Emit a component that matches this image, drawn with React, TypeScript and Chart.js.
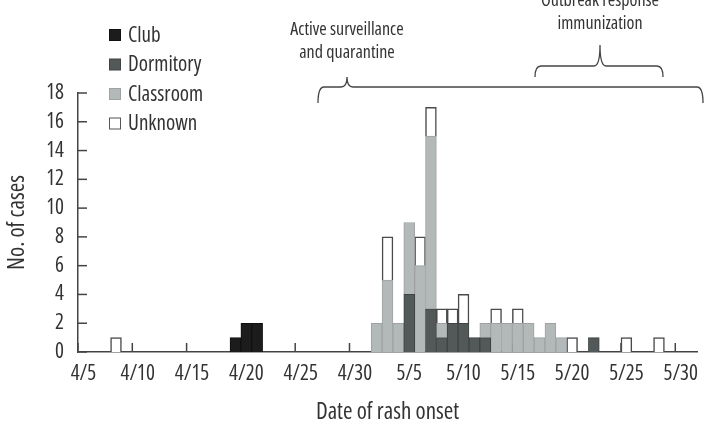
import React, { useEffect, useRef } from "react";
import { Chart, registerables } from "chart.js";
Chart.register(...registerables);

const TEXT = "#333333";
const AXIS = "#444444";

// Date of rash onset (one category per day)
const days: string[] = [
  "4/5", "4/6", "4/7", "4/8", "4/9", "4/10", "4/11", "4/12", "4/13", "4/14",
  "4/15", "4/16", "4/17", "4/18", "4/19", "4/20", "4/21", "4/22", "4/23", "4/24",
  "4/25", "4/26", "4/27", "4/28", "4/29", "4/30", "5/1", "5/2", "5/3", "5/4",
  "5/5", "5/6", "5/7", "5/8", "5/9", "5/10", "5/11", "5/12", "5/13", "5/14",
  "5/15", "5/16", "5/17", "5/18", "5/19", "5/20", "5/21", "5/22", "5/23", "5/24",
  "5/25", "5/26", "5/27", "5/28", "5/29", "5/30", "5/31",
];

const shownTicks: string[] = ["4/5", "4/10", "4/15", "4/20", "4/25", "4/30", "5/5", "5/10", "5/15", "5/20", "5/25", "5/30"];
const yTicks: number[] = [0, 2, 4, 6, 8, 10, 12, 14, 16, 18];

const club: number[] = [
  0, 0, 0, 0, 0, 0, 0, 0, 0, 0,
  0, 0, 0, 0, 1, 2, 2, 0, 0, 0,
  0, 0, 0, 0, 0, 0, 0, 0, 0, 0,
  0, 0, 0, 0, 0, 0, 0, 0, 0, 0,
  0, 0, 0, 0, 0, 0, 0, 0, 0, 0,
  0, 0, 0, 0, 0, 0, 0,
];
const dormitory: number[] = [
  0, 0, 0, 0, 0, 0, 0, 0, 0, 0,
  0, 0, 0, 0, 0, 0, 0, 0, 0, 0,
  0, 0, 0, 0, 0, 0, 0, 0, 0, 0,
  4, 0, 3, 1, 2, 2, 1, 1, 0, 0,
  0, 0, 0, 0, 0, 0, 0, 1, 0, 0,
  0, 0, 0, 0, 0, 0, 0,
];
const classroom: number[] = [
  0, 0, 0, 0, 0, 0, 0, 0, 0, 0,
  0, 0, 0, 0, 0, 0, 0, 0, 0, 0,
  0, 0, 0, 0, 0, 0, 0, 2, 5, 2,
  5, 6, 12, 1, 0, 0, 0, 1, 2, 2,
  2, 2, 1, 2, 1, 0, 0, 0, 0, 0,
  0, 0, 0, 0, 0, 0, 0,
];
const unknown: number[] = [
  0, 0, 0, 1, 0, 0, 0, 0, 0, 0,
  0, 0, 0, 0, 0, 0, 0, 0, 0, 0,
  0, 0, 0, 0, 0, 0, 0, 0, 3, 0,
  0, 2, 2, 1, 1, 2, 0, 0, 1, 0,
  1, 0, 0, 0, 0, 1, 0, 0, 0, 0,
  1, 0, 0, 1, 0, 0, 0,
];

const seriesNames: string[] = ["Club", "Dormitory", "Classroom", "Unknown"];
const seriesFill: string[] = ["#1c1c1c", "#535959", "#b3b8b8", "#ffffff"];
const seriesBorder: string[] = ["#111111", "#3e4343", "#9da2a2", "#4a4a4a"];
const seriesData: number[][] = [club, dormitory, classroom, unknown];

type FontChoice = { family: string; stretch: string };

const CANDIDATES: FontChoice[] = [
  { family: '"Liberation Sans Narrow"', stretch: "" },
  { family: '"Arial Narrow"', stretch: "" },
  { family: '"Noto Sans Condensed"', stretch: "" },
  { family: '"Noto Sans"', stretch: "condensed" },
  { family: '"Open Sans"', stretch: "condensed" },
  { family: "Roboto", stretch: "condensed" },
  { family: '"Roboto Condensed"', stretch: "" },
  { family: '"DejaVu Sans Condensed"', stretch: "" },
  { family: '"DejaVu Sans"', stretch: "condensed" },
  { family: '"Liberation Sans"', stretch: "" },
];

const SAMPLE = "Date of rash onset Dormitory 5/10";

function fontStr(f: FontChoice, size: number, fallback = "sans-serif") {
  return `${f.stretch ? f.stretch + " " : ""}${size}px ${f.family}, ${fallback}`;
}

function pickFont(ctx: CanvasRenderingContext2D): FontChoice {
  const measure = (s: string) => {
    ctx.font = s;
    return ctx.measureText(SAMPLE).width;
  };
  for (const c of CANDIDATES) {
    const a = measure(fontStr(c, 100, "monospace"));
    const b = measure(fontStr(c, 100, "serif"));
    if (Math.abs(a - b) > 0.5) continue; // family not installed
    if (c.stretch) {
      const normal = measure(fontStr({ family: c.family, stretch: "" }, 100, "monospace"));
      if (a / normal > 0.93) continue; // no condensed face
    }
    return c;
  }
  return { family: '"DejaVu Sans Condensed"', stretch: "" };
}

function sizeFor(ctx: CanvasRenderingContext2D, f: FontChoice, text: string, target: number, maxSize: number) {
  ctx.font = fontStr(f, 100);
  const w = ctx.measureText(text).width;
  return Math.min(maxSize, Math.round((target * 100) / w * 2) / 2);
}

function drawBrace(ctx: CanvasRenderingContext2D, x1: number, x2: number, y: number, xt: number, tipTop: number, endBottom: number) {
  const r = 6;
  ctx.beginPath();
  ctx.moveTo(x1, endBottom);
  ctx.quadraticCurveTo(x1, y, x1 + r, y);
  ctx.lineTo(xt - r, y);
  ctx.quadraticCurveTo(xt, y, xt, tipTop);
  ctx.quadraticCurveTo(xt, y, xt + r, y);
  ctx.lineTo(x2 - r, y);
  ctx.quadraticCurveTo(x2, y, x2, endBottom);
  ctx.stroke();
}

export default function App() {
  const canvasRef = useRef<HTMLCanvasElement | null>(null);

  useEffect(() => {
    const canvas = canvasRef.current;
    if (!canvas) return;
    const mctx = document.createElement("canvas").getContext("2d") as CanvasRenderingContext2D;
    const F = pickFont(mctx);
    const tickSize = sizeFor(mctx, F, "5/10", 35, 21);
    const legendSize = sizeFor(mctx, F, "Dormitory", 75, 21);
    const noteSize = sizeFor(mctx, F, "Active surveillance", 121, 18);
    const xTitleSize = sizeFor(mctx, F, "Date of rash onset", 160, 23);
    const yTitleSize = sizeFor(mctx, F, "No. of cases", 105, 23);
    const cfont = (size: number) => ({ family: F.family, size, weight: (F.stretch || undefined) as any });

    const decorPlugin = {
      id: "decor",
      beforeDatasetsDraw(chart: any) {
        const { ctx, chartArea } = chart;
        const x = chart.scales.x;
        const y = chart.scales.y;
        ctx.save();
        ctx.strokeStyle = AXIS;
        ctx.lineWidth = 1.5;
        const half = (x.getPixelForValue(1) - x.getPixelForValue(0)) / 2;
        days.forEach((d, i) => {
          if (!shownTicks.includes(d)) return;
          const px = x.getPixelForValue(i) - half;
          ctx.beginPath();
          ctx.moveTo(px, chartArea.bottom);
          ctx.lineTo(px, chartArea.bottom - 9);
          ctx.stroke();
        });
        yTicks.forEach((v) => {
          const py = y.getPixelForValue(v);
          ctx.beginPath();
          ctx.moveTo(chartArea.left, py);
          ctx.lineTo(chartArea.left + 9, py);
          ctx.stroke();
        });
        ctx.restore();
      },
      afterDraw(chart: any) {
        const { ctx } = chart;
        ctx.save();
        ctx.font = fontStr(F, legendSize);
        ctx.textBaseline = "middle";
        ctx.textAlign = "left";
        seriesNames.forEach((name, i) => {
          const cy = 35 + i * 29.5;
          ctx.fillStyle = seriesFill[i];
          ctx.fillRect(109.5, cy - 5.5, 11, 11);
          ctx.strokeStyle = i === 3 ? "#555555" : seriesBorder[i];
          ctx.lineWidth = 1;
          ctx.strokeRect(109.5, cy - 5.5, 11, 11);
          ctx.fillStyle = TEXT;
          ctx.fillText(name, 128, cy + 1);
        });
        ctx.font = fontStr(F, noteSize);
        ctx.textAlign = "center";
        ctx.fillStyle = TEXT;
        ctx.fillText("Active surveillance", 347, 30);
        ctx.fillText("and quarantine", 347, 53);
        ctx.fillText("Outbreak response", 600, 1);
        ctx.fillText("immunization", 600, 24);
        ctx.strokeStyle = AXIS;
        ctx.lineWidth = 1.3;
        drawBrace(ctx, 318, 703, 87, 347, 77, 103);
        drawBrace(ctx, 535, 663, 66, 600, 45, 77);
        ctx.restore();
      },
    };

    const chart = new Chart(canvas, {
      type: "bar",
      data: {
        labels: days,
        datasets: seriesNames.map((name, i) => ({
          label: name,
          data: seriesData[i].map((v) => (v === 0 ? null : v)),
          backgroundColor: seriesFill[i],
          borderColor: seriesBorder[i],
          borderWidth: i === 3 ? 1.5 : 1,
          categoryPercentage: 1,
          barPercentage: 1,
        })),
      },
      options: {
        animation: false,
        responsive: false,
        maintainAspectRatio: false,
        layout: { padding: { top: 93, right: 8, left: 0, bottom: 0 } },
        plugins: { legend: { display: false }, tooltip: { enabled: false } },
        scales: {
          x: {
            stacked: true,
            grid: { display: false, drawTicks: false, offset: true },
            border: { display: true, color: AXIS, width: 1.5 },
            ticks: {
              autoSkip: false,
              maxRotation: 0,
              minRotation: 0,
              padding: 9,
              color: TEXT,
              font: cfont(tickSize),
              callback: (_v: any, i: number) => (shownTicks.includes(days[i]) ? days[i] : ""),
            },
            title: {
              display: true,
              text: "Date of rash onset",
              color: TEXT,
              font: cfont(xTitleSize),
              padding: { top: 2, bottom: 1 },
            },
            afterFit: (s: any) => {
              s.height = 75;
            },
          },
          y: {
            stacked: true,
            min: 0,
            max: 18,
            grid: { display: false, drawTicks: false },
            border: { display: true, color: AXIS, width: 1.5 },
            ticks: {
              stepSize: 2,
              padding: 14,
              color: TEXT,
              font: cfont(tickSize),
            },
            title: {
              display: true,
              text: "No. of cases",
              color: TEXT,
              font: cfont(yTitleSize),
              padding: { top: 4, bottom: 2 },
            },
            afterFit: (s: any) => {
              s.width = 78;
            },
          },
        },
      },
      plugins: [decorPlugin],
    });
    return () => chart.destroy();
  }, []);

  return (
    <div style={{ position: "absolute", left: 0, top: 0, width: 705, height: 427, background: "#ffffff" }}>
      <canvas ref={canvasRef} width={705} height={427} />
    </div>
  );
}
